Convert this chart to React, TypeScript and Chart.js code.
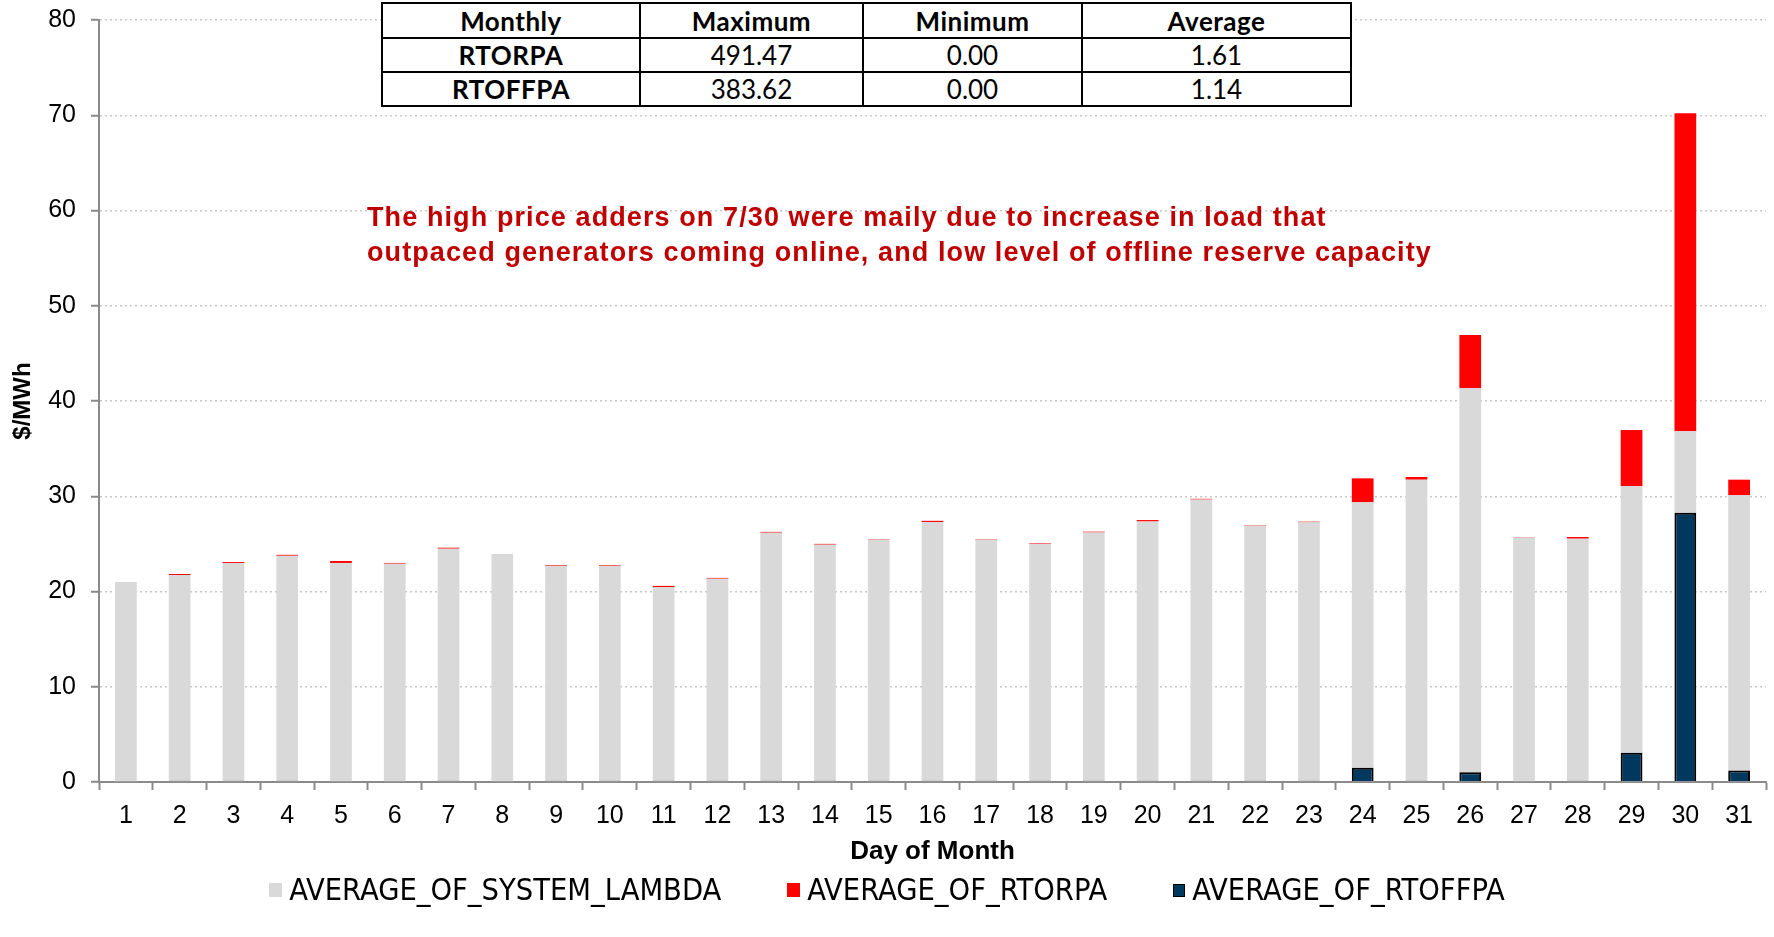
import React, { useEffect, useRef } from 'react';
import { Chart, registerables } from 'chart.js';

Chart.register(...registerables);

const days = ['1', '2', '3', '4', '5', '6', '7', '8', '9', '10', '11', '12', '13', '14', '15', '16', '17', '18', '19', '20', '21', '22', '23', '24', '25', '26', '27', '28', '29', '30', '31'];

const systemLambda = [21.0, 21.73, 23.0, 23.75, 23.0, 22.92, 24.5, 23.94, 22.7, 22.7, 20.44, 21.35, 26.18, 24.92, 25.45, 27.3, 25.45, 25.02, 26.2, 27.35, 29.65, 26.92, 27.26, 29.36, 31.74, 41.33, 25.68, 25.55, 31.04, 36.82, 30.1];

const rtorpa = [0, 0.11, 0.1, 0.1, 0.2, 0.08, 0.1, 0, 0.08, 0.08, 0.15, 0.08, 0.08, 0.08, 0.06, 0.12, 0.06, 0.07, 0.08, 0.15, 0.08, 0.06, 0.07, 2.52, 0.28, 5.6, 0.04, 0.17, 5.92, 33.4, 1.64];

const rtoffpa = [null, 0.12, 0.12, 0.12, null, null, 0.12, null, 0.12, 0.12, 0.12, 0.12, 0.12, 0.12, 0.12, 0.12, 0.12, 0.12, 0.12, 0.12, 0.12, 0.12, 0.12, 1.5, 0.12, 1.02, null, 0.12, 3.08, 28.28, 1.22];

const yTicks = [0, 10, 20, 30, 40, 50, 60, 70, 80];

const seriesNames = ['AVERAGE_OF_SYSTEM_LAMBDA', 'AVERAGE_OF_RTORPA', 'AVERAGE_OF_RTOFFPA'];
const seriesColors = ['#D9D9D9', '#FF0000', '#00385E'];

const tableHeader = ['Monthly', 'Maximum', 'Minimum', 'Average'];
const tableRows = [
  ['RTORPA', '491.47', '0.00', '1.61'],
  ['RTOFFPA', '383.62', '0.00', '1.14'],
];
const tableColWidths = [258, 223, 219, 269];

const noteLines = [
  'The high price adders on 7/30 were maily due to increase in load that',
  'outpaced generators coming online, and low level of offline reserve capacity',
];

const FONT = "'Liberation Sans', Arial, sans-serif";
const NARROW = "'Liberation Sans Narrow', 'Arial Narrow', 'DejaVu Sans Condensed', sans-serif";

export default function App() {
  const ref = useRef<HTMLCanvasElement | null>(null);

  useEffect(() => {
    document.body.style.margin = '0';
    if (!ref.current) return;
    const common = { categoryPercentage: 1, barPercentage: 0.404, grouped: false };
    const chart = new Chart(ref.current, {
      type: 'bar',
      data: {
        labels: days,
        datasets: [
          {
            label: seriesNames[0],
            data: systemLambda,
            backgroundColor: seriesColors[0],
            stack: 'on',
            order: 1,
            ...common,
          },
          {
            label: seriesNames[1],
            data: rtorpa,
            backgroundColor: seriesColors[1],
            stack: 'on',
            order: 1,
            ...common,
          },
          {
            label: seriesNames[2],
            data: rtoffpa,
            backgroundColor: seriesColors[2],
            borderColor: '#000000',
            borderWidth: 2,
            stack: 'off',
            order: 0,
            ...common,
          },
        ] as any,
      },
      options: {
        responsive: false,
        animation: false,
        layout: { padding: { top: 20, right: 8, bottom: 70, left: 0 } },
        plugins: {
          legend: { display: false },
          tooltip: { enabled: false },
        },
        scales: {
          x: {
            stacked: true,
            z: 1,
            grid: {
              offset: true,
              drawOnChartArea: false,
              tickLength: 8,
              tickColor: '#8a8a8a',
              tickWidth: 2,
            },
            border: { color: '#8a8a8a', width: 2 },
            ticks: {
              color: '#000',
              font: { family: FONT, size: 25 },
              padding: 11,
              maxRotation: 0,
              autoSkip: false,
            },
            title: {
              display: true,
              text: 'Day of Month',
              color: '#000',
              font: { family: FONT, size: 26, weight: 'bold' },
              padding: { top: 0, bottom: 0 },
            },
            afterFit: (s: any) => {
              s.height = 85;
            },
          },
          y: {
            stacked: true,
            min: yTicks[0],
            max: yTicks[yTicks.length - 1],
            afterBuildTicks: (s: any) => {
              s.ticks = yTicks.map((v) => ({ value: v }));
            },
            ticks: {
              color: '#000',
              font: { family: FONT, size: 25, lineHeight: 0.4 },
              padding: 15,
            },
            grid: {
              color: '#c8c8c8',
              lineWidth: 1.5,
              tickColor: '#8a8a8a',
              tickWidth: 2,
              tickLength: 8,
            },
            border: { display: true, color: '#8a8a8a', width: 2, dash: [2, 3] },
            title: {
              display: true,
              text: '$/MWh',
              color: '#000',
              font: { family: FONT, size: 24, weight: 'bold' },
              padding: { top: 9, bottom: 0 },
            },
            afterFit: (s: any) => {
              s.width = 99;
            },
          },
        },
      } as any,
    });
    return () => chart.destroy();
  }, []);

  return (
    <div style={{ position: 'relative', width: 1774, height: 937, background: '#fff', overflow: 'hidden' }}>
      <canvas ref={ref} width={1774} height={937} style={{ display: 'block', position: 'absolute', left: 0, top: 0 }} />
      <table
        style={{
          position: 'absolute',
          left: 381,
          top: 2,
          width: 969,
          borderCollapse: 'collapse',
          background: '#fff',
          fontFamily: "Lato, 'Open Sans', sans-serif",
          fontSize: 26,
          color: '#000',
          tableLayout: 'fixed',
        }}
      >
        <colgroup>
          {tableColWidths.map((w, i) => (
            <col key={i} style={{ width: w }} />
          ))}
        </colgroup>
        <tbody>
          <tr style={{ height: 35 }}>
            {tableHeader.map((h, i) => (
              <td
                key={i}
                style={{ border: '2px solid #000', textAlign: 'center', fontWeight: 'bold', padding: 0, lineHeight: '30px', letterSpacing: 0.5 }}
              >
                {h}
              </td>
            ))}
          </tr>
          {tableRows.map((r, ri) => (
            <tr key={ri} style={{ height: 34 }}>
              {r.map((c, ci) => (
                <td
                  key={ci}
                  style={{
                    border: '2px solid #000',
                    textAlign: 'center',
                    fontWeight: ci === 0 ? 'bold' : 'normal',
                    letterSpacing: ci === 0 ? 0.5 : 0,
                    lineHeight: '30px',
                    padding: 0,
                  }}
                >
                  {c}
                </td>
              ))}
            </tr>
          ))}
        </tbody>
      </table>
      <div
        style={{
          position: 'absolute',
          left: 367,
          top: 200,
          fontFamily: FONT,
          fontWeight: 'bold',
          fontSize: 27,
          letterSpacing: 1.1,
          lineHeight: '35px',
          color: '#C00000',
          whiteSpace: 'nowrap',
        }}
      >
        {noteLines.map((l, i) => (
          <div key={i}>{l}</div>
        ))}
      </div>
      <div
        style={{
          position: 'absolute',
          left: 0,
          top: 872,
          width: 1774,
          display: 'flex',
          justifyContent: 'center',
          gap: 66,
          fontFamily: NARROW,
          fontSize: 30.5,
          lineHeight: '36px',
          color: '#000',
        }}
      >
        {seriesNames.map((n, i) => (
          <div key={i} style={{ display: 'flex', alignItems: 'center', whiteSpace: 'nowrap' }}>
            <span
              style={{
                display: 'inline-block',
                width: i === 2 ? 10 : 13,
                height: i === 2 ? 11 : 14,
                background: seriesColors[i],
                border: i === 2 ? '1.5px solid #000' : 'none',
                marginRight: 7,
              }}
            />
            <span>{n}</span>
          </div>
        ))}
      </div>
    </div>
  );
}
